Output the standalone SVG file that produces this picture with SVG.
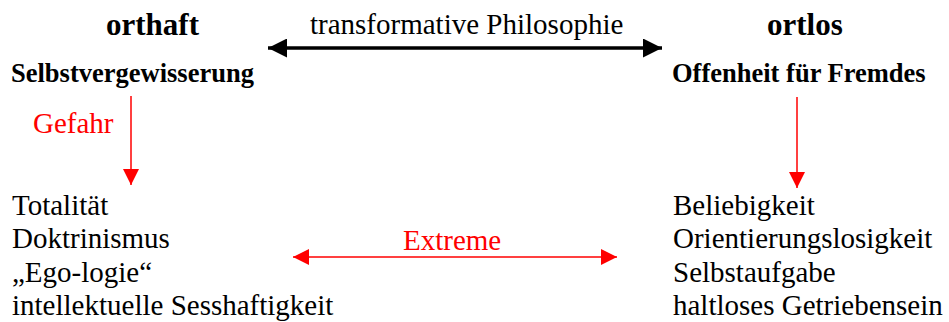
<svg xmlns="http://www.w3.org/2000/svg" width="949" height="322" viewBox="0 0 949 322">
<defs>
<marker id="rh" markerUnits="userSpaceOnUse" markerWidth="17" markerHeight="16" refX="16" refY="8" orient="auto-start-reverse">
<path d="M0,0 L16,8 L0,16 Z" fill="#ff0000"/>
</marker>
<marker id="bh" markerUnits="userSpaceOnUse" markerWidth="20" markerHeight="19" refX="19" refY="9.5" orient="auto-start-reverse">
<path d="M0,0 L19,9.5 L0,19 Z" fill="#000"/>
</marker>
</defs>
<rect width="949" height="322" fill="#fff"/>
<g id="left-list" font-family="Times New Roman, Liberation Serif, serif" font-size="29">
<text x="12" y="215">Totalität</text>
<text x="12" y="248">Doktrinismus</text>
<text x="12" y="282">„Ego-logie“</text>
<text x="12" y="315">intellektuelle Sesshaftigkeit</text>
</g>
<g id="right-list" font-family="Times New Roman, Liberation Serif, serif" font-size="29">
<text x="673" y="215">Beliebigkeit</text>
<text x="673" y="248">Orientierungslosigkeit</text>
<text x="673" y="282">Selbstaufgabe</text>
<text x="673" y="315">haltloses Getriebensein</text>
</g>
<g id="connectors" font-family="Times New Roman, Liberation Serif, serif" font-size="29">
<line stroke="#000" stroke-width="3.5" x1="268" y1="48" x2="662" y2="48" marker-start="url(#bh)" marker-end="url(#bh)"/>
<text x="310" y="34">transformative Philosophie</text>
<line stroke="#ff0000" stroke-width="1.5" x1="131" y1="96" x2="131" y2="185" marker-end="url(#rh)"/>
<text fill="#ff0000" x="33" y="133">Gefahr</text>
<line stroke="#ff0000" stroke-width="1.5" x1="797" y1="97" x2="797" y2="188" marker-end="url(#rh)"/>
<line stroke="#ff0000" stroke-width="1.5" x1="293" y1="257" x2="617" y2="257" marker-start="url(#rh)" marker-end="url(#rh)"/>
<text fill="#ff0000" x="403" y="250">Extreme</text>
</g>
<g id="orthaft"><text font-family="Liberation Serif, Times New Roman, serif" font-size="31" font-weight="bold" x="106" y="35">orthaft</text></g>
<g id="ortlos"><text font-family="Liberation Serif, Times New Roman, serif" font-size="31" font-weight="bold" x="767" y="35">ortlos</text></g>
<g id="selbstvergewisserung"><text font-family="Liberation Serif, Times New Roman, serif" font-size="26.5" font-weight="bold" x="11" y="82">Selbstvergewisserung</text></g>
<g id="offenheit"><text font-family="Liberation Serif, Times New Roman, serif" font-size="26.5" font-weight="bold" x="672" y="82">Offenheit für Fremdes</text></g>
</svg>
